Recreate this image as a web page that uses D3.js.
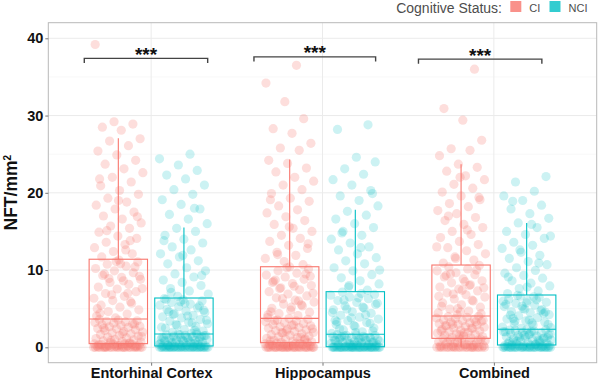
<!DOCTYPE html>
<html>
<head>
<meta charset="utf-8">
<script src="https://cdn.jsdelivr.net/npm/d3@7"></script>
<style>
body{margin:0;background:#fff}
svg{display:block}
text{font-family:"Liberation Sans",Arial,sans-serif}
</style>
</head>
<body>
<div id="chart"></div>
<script>
// categories and groups
const regions = ['Entorhinal Cortex', 'Hippocampus', 'Combined'];
const statuses = ['CI', 'NCI'];
const statusColors = ['#F8766D', '#00BFC4'];
const yTicks = [0, 10, 20, 30, 40];
const yMinor = [5, 15, 25, 35];

// box stats per region: [lower whisker, q1, median, q3, upper whisker]
const boxCI  = [[0, 0.47, 3.66, 11.4, 27.05], [0, 0.6, 3.75, 10.43, 24.3], [0, 1.16, 4.05, 10.65, 23.7]];
const boxNCI = [[0, 0.17, 1.72, 6.38, 15.5], [0, 0.08, 1.68, 7.2, 17.8], [0, 0.3, 2.33, 6.77, 16.1]];

// significance brackets (x in category units, y in data units)
const bracketX = [[0.61, 1.33], [1.60, 2.31], [2.56, 3.28]];
const bracketY = [37.4, 37.6, 37.3];
const sigLabels = ['***', '***', '***'];

// NFT density per subject
const ciEC = [0,0,0,0,0,0,0,0,0,0,0,0,0,0,0,0,0,0,0,0,0,0,0,0,
  0.04,0.1,0.13,0.19,0.22,0.27,0.31,0.35,0.38,0.41,0.44,0.46,0.07,0.16,0.25,0.33,
  0.52,0.61,0.68,0.77,0.83,0.95,1.02,1.14,1.21,1.33,1.46,1.52,1.67,1.74,1.88,1.97,2.05,2.18,2.27,2.39,
  2.44,2.58,2.66,2.71,2.85,2.93,3.04,3.12,3.21,3.28,3.37,3.44,3.52,3.61,0.58,0.9,1.4,1.8,2.5,3.0,
  3.8,4.05,4.3,4.62,4.85,5.2,5.45,5.7,6.05,6.35,6.6,6.95,7.2,7.55,7.8,8.15,8.4,8.8,9.05,9.3,
  9.65,9.9,10.2,10.5,10.75,11.05,11.3,4.4,5.9,6.8,7.6,8.6,9.5,10.4,11.1,5.0,7.0,8.9,9.2,10.8,
  11.7,12.1,12.4,12.9,13.3,13.6,14.1,14.4,14.9,15.4,15.7,16.1,16.6,17.0,17.5,17.9,18.4,18.8,19.3,19.8,
  20.3,20.9,21.4,22.0,22.6,23.1,23.7,24.2,24.9,25.4,26.1,26.7,27.0,28.1,28.5,28.9,29.2,39.2,12.6,15.1,16.9,19.0,21.8,13.8];
const nciEC = [0,0,0,0,0,0,0,0,0,0,0,0,0,0,0,0,0,0,0,0,0,0,0,0,0,0,0,0,0,0,0,0,0,0,
  0.05,0.1,0.14,0.16,0.08,0.12,
  0.2,0.26,0.31,0.38,0.44,0.5,0.57,0.63,0.69,0.76,0.82,0.88,0.95,1.0,1.06,1.12,1.18,1.25,1.31,1.37,
  1.44,1.5,1.55,1.61,1.66,1.7,0.35,0.72,1.08,1.4,0.9,1.2,0.48,0.6,1.52,1.28,0.25,0.8,1.64,1.02,
  1.8,1.95,2.1,2.3,2.5,2.7,2.85,3.05,3.25,3.4,3.6,3.8,3.95,4.15,4.35,4.5,4.7,4.9,5.1,5.25,
  5.45,5.6,5.8,6.0,6.15,6.3,2.2,2.95,3.5,4.05,4.6,5.35,5.9,2.6,3.15,4.25,4.8,5.7,6.2,1.88,
  6.6,6.9,7.3,7.6,8.0,8.4,8.7,9.1,9.5,9.9,10.3,10.8,11.2,11.7,12.1,12.6,13.0,13.5,14.0,14.5,
  15.0,15.4,16.0,16.6,17.2,17.9,18.5,19.1,19.8,20.4,21.0,21.8,22.3,22.9,23.6,24.4,25.0,7.1,9.3,11.9,13.8,18.0];
const ciHP = [0,0,0,0,0,0,0,0,0,0,0,0,0,0,0,0,0,0,0,0,0,0,0,0,0,0,0,0,
  0.06,0.12,0.18,0.23,0.29,0.34,0.4,0.45,0.5,0.55,0.58,0.15,0.38,0.48,
  0.65,0.72,0.8,0.9,0.98,1.07,1.16,1.25,1.36,1.44,1.55,1.63,1.74,1.85,1.93,2.04,2.15,2.26,2.35,2.47,
  2.56,2.66,2.78,2.87,2.96,3.08,3.19,3.3,3.41,3.52,3.63,3.72,0.85,1.3,1.9,2.4,2.9,3.45,1.1,2.1,
  3.85,4.1,4.35,4.55,4.8,5.05,5.35,5.6,5.85,6.1,6.4,6.65,6.9,7.2,7.45,7.7,8.0,8.25,8.55,8.8,
  9.1,9.35,9.6,9.9,10.15,10.4,4.6,5.5,6.3,7.0,7.9,8.7,9.5,10.3,4.2,6.0,7.6,9.2,5.2,8.4,
  10.7,11.1,11.5,11.9,12.3,12.8,13.2,13.7,14.1,14.5,15.0,15.4,15.9,16.4,16.9,17.4,17.8,18.3,18.9,19.3,
  19.9,20.4,21.0,21.5,22.0,22.7,23.2,23.8,24.2,25.5,25.8,26.4,27.7,28.3,29.6,31.8,34.2,36.5,12.0,13.4,15.6,19.1];
const nciHP = [0,0,0,0,0,0,0,0,0,0,0,0,0,0,0,0,0,0,0,0,0,0,0,0,0,0,0,0,0,0,0,0,0,0,0,0,0,0,
  0.04,0.07,
  0.12,0.18,0.25,0.32,0.38,0.45,0.52,0.58,0.64,0.7,0.77,0.84,0.9,0.96,1.02,1.09,1.15,1.22,1.28,1.35,
  1.41,1.47,1.53,1.59,1.64,0.2,0.48,0.8,1.12,1.38,0.6,0.28,0.93,1.25,1.56,0.42,0.72,1.05,1.3,0.15,
  1.8,2.0,2.25,2.5,2.7,2.95,3.2,3.45,3.65,3.9,4.15,4.4,4.6,4.85,5.1,5.35,5.55,5.8,6.05,6.3,
  6.5,6.75,6.95,7.15,2.1,2.8,3.5,4.2,4.95,5.7,6.4,2.4,3.1,3.8,4.5,5.2,6.1,6.85,1.9,3.3,
  7.4,7.8,8.2,8.6,9.0,9.4,9.9,10.3,10.8,11.2,11.6,12.1,12.6,13.0,13.5,14.0,14.5,15.0,15.5,16.0,
  16.6,17.1,17.6,18.3,19.0,19.6,20.3,21.0,21.7,22.4,23.1,24.0,24.6,28.2,28.8,8.0,10.0,12.9,14.8,19.9];
const ciCO = [0,0,0,0,0,0,0,0,0,0,0,0,0,0,0,0,0,0,0,0,0,0,
  0.09,0.21,0.33,0.41,0.52,0.63,0.71,0.82,0.94,1.02,1.08,1.14,0.27,0.57,0.86,0.36,0.67,0.97,1.11,0.16,
  1.22,1.3,1.39,1.48,1.57,1.66,1.75,1.84,1.95,2.04,2.13,2.22,2.31,2.42,2.51,2.6,2.69,2.78,2.88,2.97,
  3.06,3.15,3.25,3.34,3.43,3.52,3.61,3.7,3.79,3.88,3.97,4.02,1.6,2.1,2.5,3.0,3.5,1.9,2.8,3.3,
  4.2,4.45,4.7,4.95,5.2,5.5,5.75,6.0,6.25,6.5,6.8,7.05,7.3,7.55,7.8,8.1,8.35,8.6,8.85,9.1,
  9.4,9.65,9.9,10.15,10.4,10.6,4.6,5.3,6.1,6.9,7.7,8.5,9.3,10.0,5.0,6.6,8.0,9.5,4.35,7.4,
  10.9,11.3,11.7,12.1,12.5,12.9,13.3,13.7,14.2,14.6,15.0,15.5,15.9,16.4,16.8,17.3,17.7,18.2,18.6,19.1,
  19.6,20.1,20.6,21.1,21.7,22.2,22.8,23.3,23.7,24.8,25.5,25.7,26.8,29.4,30.9,36.0,11.5,13.0,15.2,17.0,19.4,22.0];
const nciCO = [0,0,0,0,0,0,0,0,0,0,0,0,0,0,0,0,0,0,0,0,0,0,0,0,0,0,0,0,0,0,
  0.05,0.09,0.14,0.19,0.23,0.27,0.29,0.11,0.17,0.21,
  0.36,0.44,0.52,0.6,0.69,0.77,0.85,0.94,1.02,1.1,1.19,1.27,1.35,1.44,1.52,1.61,1.69,1.77,1.86,1.94,
  2.02,2.11,2.19,2.27,2.31,0.48,0.9,1.3,1.7,2.05,0.65,1.15,1.56,1.98,0.4,0.81,1.23,1.65,2.24,0.58,
  2.45,2.63,2.88,3.04,3.27,3.43,3.66,3.84,4.07,4.22,4.46,4.63,4.88,5.02,5.27,5.44,5.68,5.83,6.06,6.21,
  6.47,6.62,2.54,3.17,3.73,4.36,4.93,5.56,6.14,6.71,2.96,3.52,4.18,4.74,5.33,5.97,6.53,3.36,4.57,5.76,
  6.95,7.3,7.6,7.95,8.3,8.6,8.95,9.3,9.6,9.95,10.3,10.7,11.1,11.5,11.9,12.3,12.8,13.2,13.6,14.1,
  14.6,15.0,15.5,16.1,16.7,17.3,17.9,18.4,19.0,19.6,20.2,21.4,22.1,7.8,9.1,10.9,12.6,14.4,15.9,18.9];

const points = [[ciEC, nciEC], [ciHP, nciHP], [ciCO, nciCO]];
const boxes = [boxCI, boxNCI];

const W = 598, H = 380;
const panel = {l: 48.3, r: 596.7, t: 22.7, b: 362.7};

const svg = d3.select('#chart').append('svg')
	.attr('width', W).attr('height', H);

const x = d3.scaleLinear().domain([0.4, 3.6]).range([panel.l, panel.r]);
const y = d3.scaleLinear().domain([0, 40]).range([347.3, 38.3]);
const sub = d3.scaleBand().domain(statuses).range([-62, 62]).paddingInner(0.11);
const bw = sub.bandwidth();
const color = d3.scaleOrdinal().domain(statuses).range(statusColors);

//grid
const grid = svg.append('g');
grid.selectAll('.minor').data(yMinor).enter().append('line')
	.attr('x1', panel.l).attr('x2', panel.r)
	.attr('y1', d => y(d)).attr('y2', d => y(d))
	.style('stroke', '#f3f3f3').style('stroke-width', 0.6);
grid.selectAll('.major').data(yTicks).enter().append('line')
	.attr('x1', panel.l).attr('x2', panel.r)
	.attr('y1', d => y(d)).attr('y2', d => y(d))
	.style('stroke', '#ebebeb').style('stroke-width', 1);
grid.selectAll('.vert').data(regions).enter().append('line')
	.attr('x1', (d, i) => x(i + 1)).attr('x2', (d, i) => x(i + 1))
	.attr('y1', panel.t).attr('y2', panel.b)
	.style('stroke', '#ebebeb').style('stroke-width', 1);

//jittered points, horizontal jitter spread by index
const plot = svg.append('g');
regions.forEach(function(r, i){
	statuses.forEach(function(s, j){
		const cx0 = x(i + 1) + sub(s) + bw / 2;
		const half = bw / 2 - 4.5;
		plot.append('g').selectAll('circle')
			.data(points[i][j])
			.enter().append('circle')
			.attr('cx', (d, k) => cx0 + (((k * 0.618034 + 0.37 * i + 0.21 * j) % 1) - 0.5) * 2 * half)
			.attr('cy', d => y(d))
			.attr('r', 4.6)
			.style('fill', color(s))
			.style('fill-opacity', j === 0 ? 0.24 : 0.2);
	});
});

//boxplots
statuses.forEach(function(s, j){
	boxes[j].forEach(function(b, i){
		const x0 = x(i + 1) + sub(s);
		const xc = x0 + bw / 2;
		const g = svg.append('g').style('stroke', color(s)).style('stroke-width', 1.1).style('fill', 'none');
		g.append('line').attr('x1', xc).attr('x2', xc).attr('y1', y(b[3])).attr('y2', y(b[4]));
		g.append('line').attr('x1', xc).attr('x2', xc).attr('y1', y(b[1])).attr('y2', y(b[0]));
		g.append('rect').attr('x', x0).attr('width', bw)
			.attr('y', y(b[3])).attr('height', y(b[1]) - y(b[3]));
		g.append('line').attr('x1', x0).attr('x2', x0 + bw).attr('y1', y(b[2])).attr('y2', y(b[2]));
	});
});

//significance brackets
const sig = svg.append('g');
bracketX.forEach(function(bx, i){
	const yy = y(bracketY[i]);
	const tick = y(bracketY[i] - 0.6) - yy;
	sig.append('path')
		.attr('d', `M${x(bx[0])},${yy + tick}V${yy}H${x(bx[1])}V${yy + tick}`)
		.style('fill', 'none').style('stroke', '#444').style('stroke-width', 1.4);
	sig.append('text')
		.attr('x', (x(bx[0]) + x(bx[1])) / 2)
		.attr('y', yy + 2.5)
		.attr('text-anchor', 'middle')
		.style('font-size', '19px').style('font-weight', 'bold')
		.style('fill', '#111')
		.text(sigLabels[i]);
});

//panel border
svg.append('rect')
	.attr('x', panel.l).attr('y', panel.t)
	.attr('width', panel.r - panel.l).attr('height', panel.b - panel.t)
	.style('fill', 'none').style('stroke', '#b8b8b8').style('stroke-width', 1);

//axes
const axisY = d3.axisLeft(y).tickValues(yTicks).tickSize(3).tickPadding(2);
const gy = svg.append('g')
	.attr('transform', `translate(${panel.l},0)`)
	.call(axisY);
gy.select('.domain').remove();
gy.selectAll('line').style('stroke', '#777');
gy.selectAll('text').style('font-size', '14.5px').style('font-weight', 'bold').style('fill', '#111');

const axisX = d3.axisBottom(x).tickValues([1, 2, 3]).tickFormat((d, i) => regions[i]).tickSize(3).tickPadding(2);
const gx = svg.append('g')
	.attr('transform', `translate(0,${panel.b})`)
	.call(axisX);
gx.select('.domain').remove();
gx.selectAll('line').style('stroke', '#777');
gx.selectAll('text').style('font-size', '14.5px').style('font-weight', 'bold').style('fill', '#111');

//y title
const yTitle = svg.append('text')
	.attr('transform', `translate(16.5,${(panel.t + panel.b) / 2}) rotate(-90)`)
	.attr('text-anchor', 'middle')
	.style('font-size', '17.5px').style('font-weight', 'bold').style('fill', '#111');
yTitle.append('tspan').text('NFT/mm');
yTitle.append('tspan').attr('dy', -6).style('font-size', '10px').text('2');

//legend
const legend = svg.append('g');
legend.append('text')
	.attr('x', 502).attr('y', 12.7)
	.attr('text-anchor', 'end')
	.style('font-size', '14px').style('fill', '#4d4d4d')
	.text('Cognitive Status:');
const legendX = [510.3, 549.5];
statuses.forEach(function(s, j){
	legend.append('rect')
		.attr('x', legendX[j]).attr('y', 1)
		.attr('width', 11).attr('height', 11)
		.style('fill', color(s)).style('fill-opacity', 0.8);
	legend.append('text')
		.attr('x', legendX[j] + 19).attr('y', 12)
		.style('font-size', '11px').style('fill', '#4d4d4d')
		.text(s);
});
</script>
</body>
</html>
